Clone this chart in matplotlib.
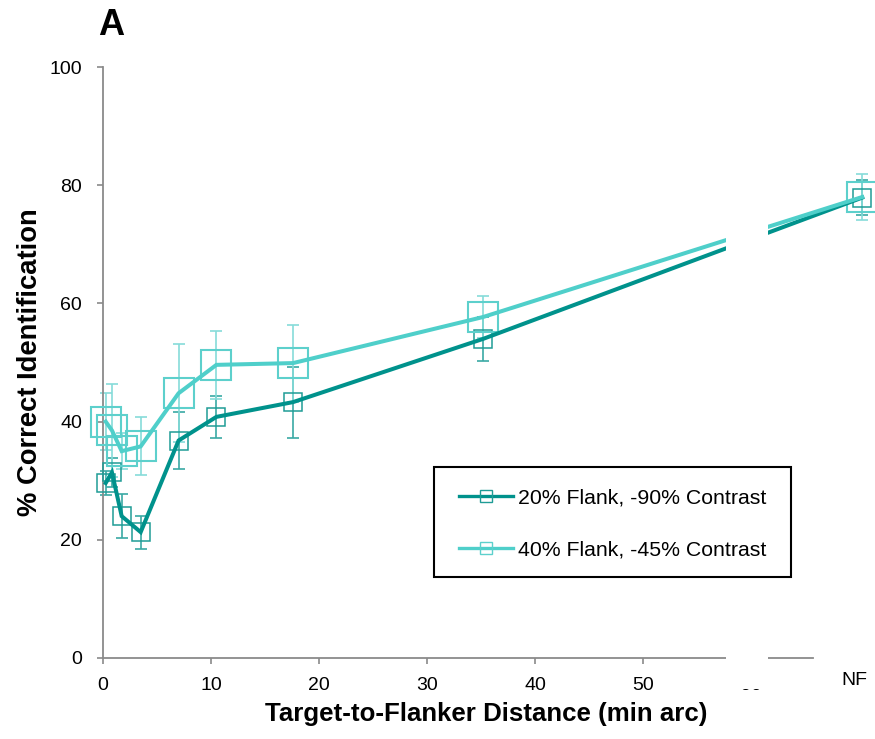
import matplotlib
matplotlib.use("Agg")
import matplotlib.pyplot as plt
from matplotlib.lines import Line2D
from matplotlib.patches import Rectangle

# distance in min arc; last point is the no-flanker (NF) condition
distance = [0.25, 0.83, 1.73, 3.49, 7.0, 10.5, 17.6, 35.2, 70.3]
flank20 = [29.6, 31.4, 24.0, 21.3, 36.8, 40.8, 43.3, 54.0, 77.9]
flank20_err = [2.0, 2.5, 3.7, 2.8, 4.8, 3.5, 6.0, 3.7, 3.0]
flank40 = [40.0, 38.5, 35.0, 35.8, 44.8, 49.6, 49.9, 57.7, 78.0]
flank40_err = [4.8, 7.9, 3.0, 4.9, 8.3, 5.7, 6.5, 3.5, 3.9]
x_ticks = [0, 10, 20, 30, 40, 50, 60]
y_ticks = [0, 20, 40, 60, 80, 100]
labels = ["20% Flank, -90% Contrast", "40% Flank, -45% Contrast"]

DARK = "#00928c"
DARK_MK = "#1f9c96"
DARK_ERR = "#3aa9a4"
LIGHT = "#4fcfca"
LIGHT_MK = "#5dd0cc"
LIGHT_ERR = "#86dcd9"
GRAY = "#8a8a8a"

plt.rcParams["font.family"] = ["Liberation Sans", "DejaVu Sans"]

fig = plt.figure(figsize=(8.75, 7.39), dpi=100)
ax = fig.add_axes([103 / 875, 81 / 739, 766.8 / 875, 591 / 739])
ax.set_xlim(0, 71)
ax.set_ylim(0, 100)

series = [
    (flank20, flank20_err, DARK, DARK_MK, DARK_ERR, 13.2, 1.1),
    (flank40, flank40_err, LIGHT, LIGHT_MK, LIGHT_ERR, 21.0, 1.5),
]
for vals, err, lc, mc, ec, ms, mew in series:
    ax.errorbar(distance, vals, yerr=err, fmt="none", ecolor=ec, elinewidth=1.2,
                capsize=4.3, capthick=1.2, clip_on=False, zorder=2)
    ax.plot(distance, vals, ls="none", marker="s", ms=ms, mfc="none", mec=mc,
            mew=mew, clip_on=False, zorder=3)
    ax.plot(distance, vals, color=lc, lw=2.9, solid_joinstyle="miter",
            clip_on=False, zorder=4)

for s in ["top", "right"]:
    ax.spines[s].set_visible(False)
for s in ["left", "bottom"]:
    ax.spines[s].set_color(GRAY)
    ax.spines[s].set_linewidth(1.3)
ax.spines["bottom"].set_bounds(0, 65.7)

ax.set_xticks(x_ticks)
ax.set_yticks(y_ticks)
ax.tick_params(axis="both", direction="out", length=4, width=1.2, color=GRAY,
               labelsize=14)
ax.tick_params(axis="y", pad=11)
ax.tick_params(axis="x", pad=9.5)
ax.text(69.6, -2.4, "NF", transform=ax.transData, ha="center", va="top",
        fontsize=14)

ax.set_ylabel("% Correct Identification", fontsize=19.7, fontweight="bold",
              labelpad=5)
ax.set_xlabel("Target-to-Flanker Distance (min arc)", fontsize=18.6,
              fontweight="bold", labelpad=6)

# legend: frameless content plus a separate square frame
handles = [
    Line2D([], [], color=DARK, lw=2.4, marker="s", ms=8, mfc="none", mec=DARK_MK, mew=1.0),
    Line2D([], [], color=LIGHT, lw=2.4, marker="s", ms=8, mfc="none", mec=LIGHT_MK, mew=1.0),
]
leg = ax.legend(handles, labels, loc="upper left",
                bbox_to_anchor=((459 - 103) / 766.8, (658 - 488) / 591),
                borderaxespad=0, borderpad=0, fontsize=15.3, frameon=False,
                labelspacing=1.58, handlelength=2.54, handletextpad=0.25)
leg.set_zorder(7)
ax.add_patch(Rectangle((331 / 766.8, 81 / 591), 357 / 766.8, 110 / 591,
                       transform=ax.transAxes, facecolor="white",
                       edgecolor="black", linewidth=1.5, zorder=6))

# axis break: white patch hiding the 50-NF gap (kept under the legend)
ax.add_patch(Rectangle((726 / 875, 50 / 739), 42 / 875, 490 / 739,
                       transform=fig.transFigure, facecolor="white",
                       edgecolor="none", clip_on=False, zorder=5))

fig.text(98 / 875, 1 - 35 / 739, "A", fontsize=26, fontweight="bold",
         va="baseline", ha="left")

fig.savefig("out.png", dpi=100)
